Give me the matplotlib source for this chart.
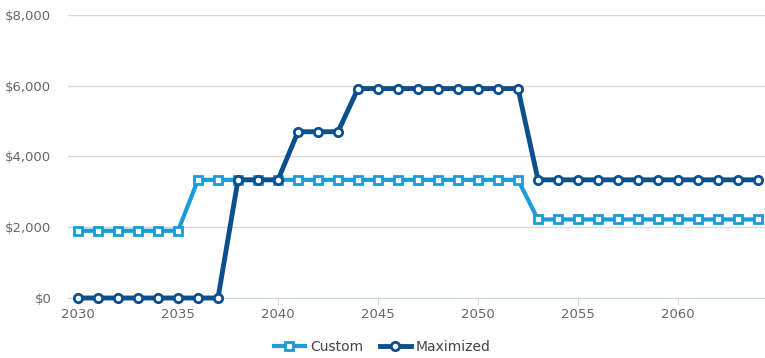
import matplotlib
matplotlib.use("Agg")
import matplotlib.pyplot as plt
from matplotlib.ticker import FuncFormatter

years = list(range(2030, 2065))
custom = [1900]*6 + [3340]*17 + [2220]*12
maximized = [0]*8 + [3340]*3 + [4700]*3 + [5920]*9 + [3340]*12
y_ticks = [0, 2000, 4000, 6000, 8000]
x_ticks = [2030, 2035, 2040, 2045, 2050, 2055, 2060]

fig = plt.figure(figsize=(7.65, 3.58), dpi=100)
ax = fig.add_axes([68/765, 1-298/358, (765-68)/765, (298-15)/358])

c_custom = "#1b9bd7"
c_max = "#0b4f8e"
ax.plot(years, custom, color=c_custom, lw=3, marker="s", ms=5.5, mfc="white",
        mec=c_custom, mew=2, label="Custom", clip_on=False, zorder=3)
ax.plot(years, maximized, color=c_max, lw=3.5, marker="o", ms=6, mfc="white",
        mec=c_max, mew=2, label="Maximized", clip_on=False, zorder=4)

ax.set_xlim(2029.5, 2064.35)
ax.set_ylim(0, 8000)
ax.set_yticks(y_ticks)
ax.set_xticks(x_ticks)
ax.yaxis.set_major_formatter(FuncFormatter(lambda v, p: f"${int(v):,}"))
ax.grid(axis="y", color="#d8d8d8", lw=1)
ax.set_axisbelow(True)
for s in ["top", "right", "left"]:
    ax.spines[s].set_visible(False)
ax.spines["bottom"].set_color("#ccd6eb")
ax.tick_params(axis="y", length=0, pad=12, labelsize=9.5, labelcolor="#666666")
ax.tick_params(axis="x", length=5, color="#ccd6eb", pad=2, labelsize=9.5, labelcolor="#666666")

leg = fig.legend(loc="center", bbox_to_anchor=(0.5, 1-347/358), ncol=2, frameon=False,
                 fontsize=10, handlelength=2.2, columnspacing=1.2, handletextpad=0.4)
for t in leg.get_texts():
    t.set_color("#444444")

fig.savefig("out.png", dpi=100)
